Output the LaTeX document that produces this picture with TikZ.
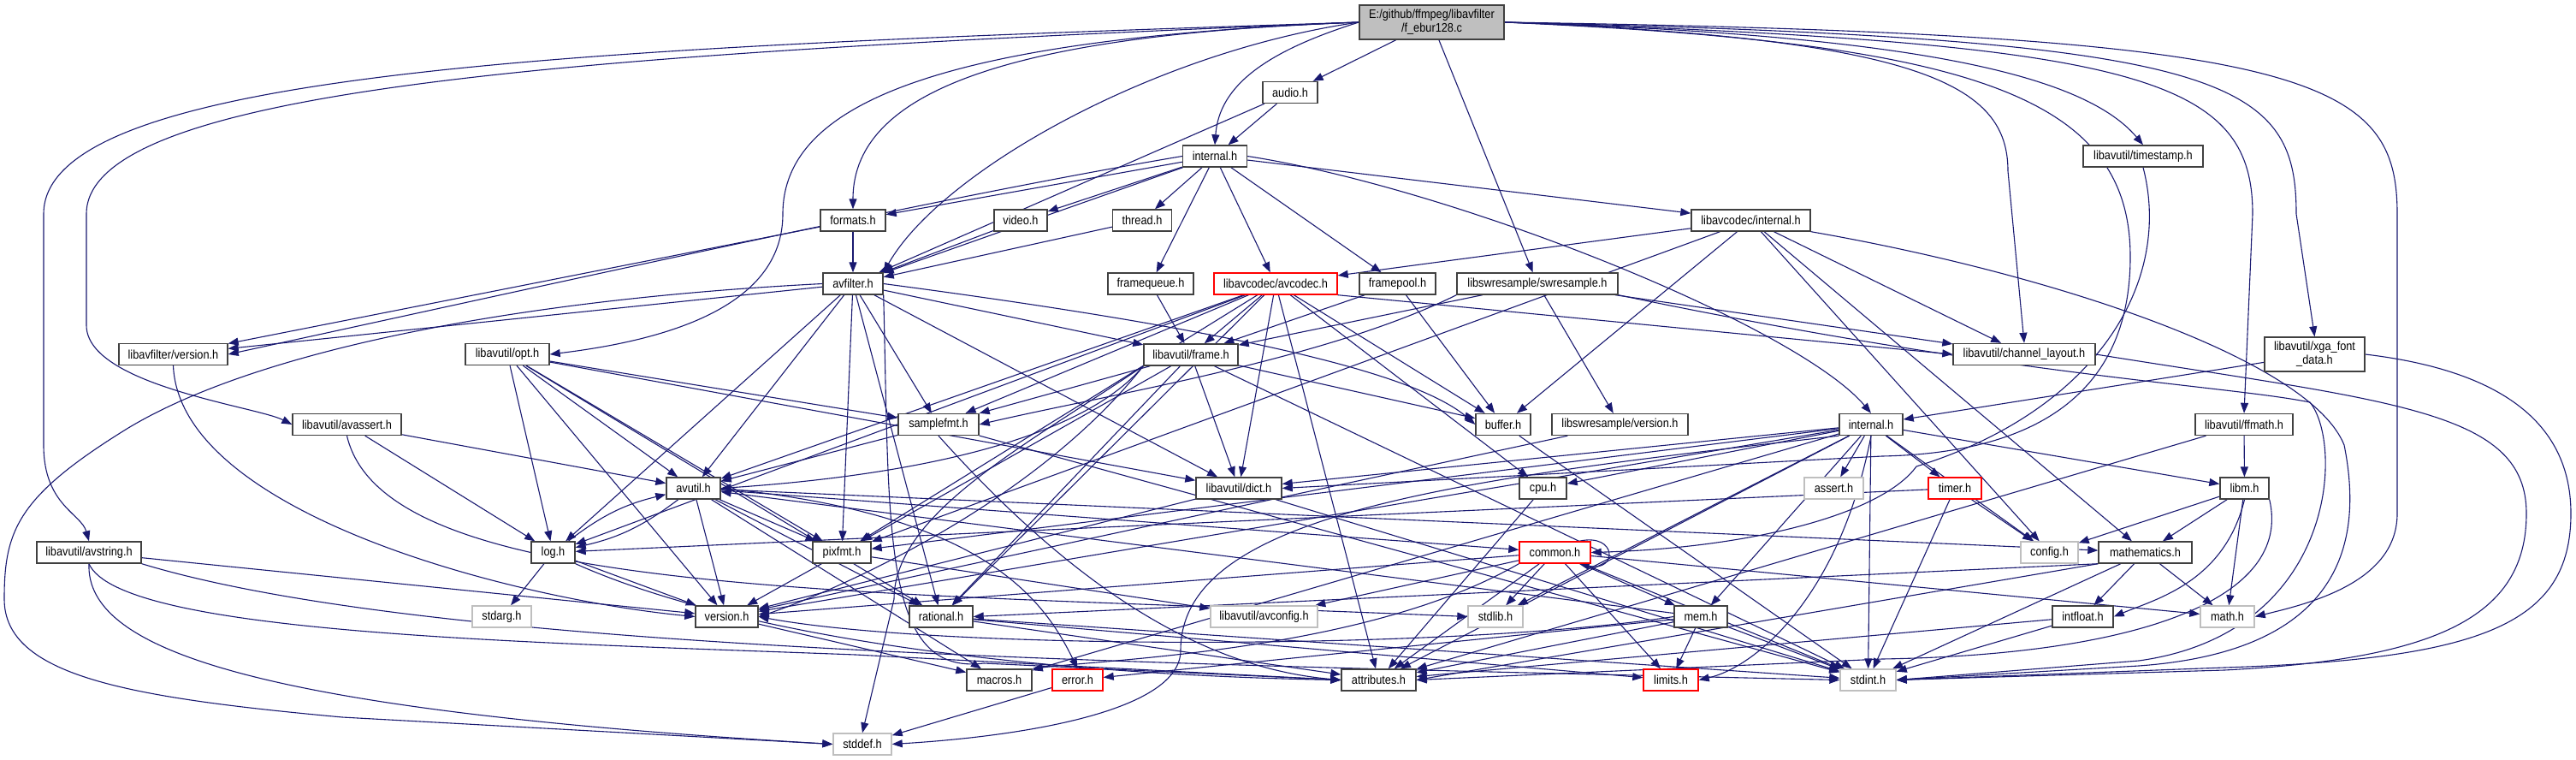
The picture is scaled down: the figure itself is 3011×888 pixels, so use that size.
\documentclass[tikz,border=0pt]{standalone}
\usepackage{fontspec}
\setmainfont{Liberation Sans}[FakeStretch=0.88]
\usetikzlibrary{arrows.meta, backgrounds}
\definecolor{edgeblue}{RGB}{25,25,112}
\definecolor{boxline}{RGB}{64,64,64}
\definecolor{sysline}{RGB}{191,191,191}
\definecolor{rootfill}{RGB}{191,191,191}

\begin{document}
\begin{tikzpicture}[x=1pt, y=-1pt,
    hdr/.style={
        draw=boxline,
        line width=1.4pt,
        fill=white,
        minimum height=25pt,
        inner sep=2pt,
        align=center,
        font=\fontsize{14.5}{16}\selectfont
    },
    syshdr/.style={hdr, draw=sysline},
    redhdr/.style={hdr, draw=red},
    incl/.style={
        -{Triangle[length=12pt,width=9pt]},
        draw=edgeblue,
        line width=1.1pt
    }
]
\useasboundingbox (0,0) rectangle (3011,888);

% top rows
\node[hdr, fill=rootfill, minimum width=169, minimum height=40] (root) at (1673.5,26)
{E:/github/ffmpeg/libavfilter\\/f\_ebur128.c};
\node[hdr, minimum width=64] (audio) at (1508,108) {audio.h};
\node[hdr, minimum width=75] (lfint) at (1420,182.5) {internal.h};
\node[hdr, minimum width=140] (tstamp) at (2505,182.5) {libavutil/timestamp.h};
\node[hdr, minimum width=76] (formats) at (997,257.5) {formats.h};
\node[hdr, minimum width=62] (video) at (1193,257.5) {video.h};
\node[hdr, minimum width=69] (thread) at (1335,257.5) {thread.h};
\node[hdr, minimum width=139] (lcint) at (2046.5,257.5) {libavcodec/internal.h};

\node[hdr, minimum width=70] (avfilter) at (997,331.5) {avfilter.h};
\node[hdr, minimum width=100] (fqueue) at (1345,331.5) {framequeue.h};
\node[redhdr, minimum width=144] (avcodec) at (1491,331.5) {libavcodec/avcodec.h};
\node[hdr, minimum width=89] (fpool) at (1633.5,331.5) {framepool.h};
\node[hdr, minimum width=188] (swr) at (1797,331.5) {libswresample/swresample.h};

\node[hdr, minimum width=127] (lfver) at (202.5,414) {libavfilter/version.h};
\node[hdr, minimum width=98] (opt) at (593,414) {libavutil/opt.h};
\node[hdr, minimum width=110] (frame) at (1392,414.5) {libavutil/frame.h};
\node[hdr, minimum width=166] (chlayout) at (2366,414) {libavutil/channel\_layout.h};
\node[hdr, minimum width=117, minimum height=40] (xga) at (2705.5,414) {libavutil/xga\_font\\\_data.h};

\node[hdr, minimum width=127] (avassert) at (405.5,496) {libavutil/avassert.h};
\node[hdr, minimum width=94] (samplefmt) at (1097,496) {samplefmt.h};
\node[hdr, minimum width=64] (buffer) at (1757,496) {buffer.h};
\node[hdr, minimum width=159] (swrver) at (1893.5,496) {libswresample/version.h};
\node[hdr, minimum width=74] (auint) at (2187,496) {internal.h};
\node[hdr, minimum width=114] (ffmath) at (2623,496) {libavutil/ffmath.h};

% middle rows
\node[hdr, minimum width=63] (avutil) at (810.5,570.5) {avutil.h};
\node[hdr, minimum width=100] (dict) at (1448,570.5) {libavutil/dict.h};
\node[hdr, minimum width=55] (cpu) at (1803.5,570.5) {cpu.h};
\node[syshdr, minimum width=69] (assert) at (2143.5,570.5) {assert.h};
\node[redhdr, minimum width=62] (timer) at (2285,570.5) {timer.h};
\node[hdr, minimum width=57] (libm) at (2623.5,570.5) {libm.h};

\node[hdr, minimum width=122] (avstring) at (104,645.5) {libavutil/avstring.h};
\node[hdr, minimum width=51] (log) at (646.5,645.5) {log.h};
\node[hdr, minimum width=68] (pixfmt) at (984,645.5) {pixfmt.h};
\node[redhdr, minimum width=83] (common) at (1817.5,645.5) {common.h};
\node[syshdr, minimum width=67] (config) at (2395.5,645.5) {config.h};
\node[hdr, minimum width=109] (mathem) at (2507.5,645.5) {mathematics.h};

\node[syshdr, minimum width=69] (stdarg) at (586.5,720.5) {stdarg.h};
\node[hdr, minimum width=73] (version) at (849.5,720.5) {version.h};
\node[hdr, minimum width=74] (rational) at (1100,720.5) {rational.h};
\node[syshdr, minimum width=125] (avconfig) at (1477.5,720.5) {libavutil/avconfig.h};
\node[syshdr, minimum width=64] (stdlib) at (1748,720.5) {stdlib.h};
\node[hdr, minimum width=62] (mem) at (1988,720.5) {mem.h};
\node[hdr, minimum width=71] (intfloat) at (2434.5,720.5) {intfloat.h};
\node[syshdr, minimum width=63] (math) at (2603.5,720.5) {math.h};

% bottom rows
\node[hdr, minimum width=76] (macros) at (1168,794.5) {macros.h};
\node[redhdr, minimum width=59] (error) at (1259.5,794.5) {error.h};
\node[hdr, minimum width=87] (attributes) at (1611.5,794.5) {attributes.h};
\node[redhdr, minimum width=64] (limits) at (1953,794.5) {limits.h};
\node[syshdr, minimum width=65] (stdint) at (2183.5,794.5) {stdint.h};
\node[syshdr, minimum width=68] (stddef) at (1008,869.5) {stddef.h};

\begin{scope}[on background layer]
% straight includes
\foreach \a/\b in {root/audio, root/swr,
    audio/lfint, audio/avfilter,
    lfint/formats, lfint/video, lfint/thread, lfint/avfilter, lfint/fqueue,
    lfint/avcodec, lfint/fpool, lfint/lcint,
    formats/avfilter, formats/lfver, video/avfilter, thread/avfilter,
    lcint/avcodec, lcint/buffer, lcint/chlayout, lcint/mathem, lcint/pixfmt, lcint/config,
    avfilter/lfver, avfilter/avutil, avfilter/log, avfilter/samplefmt, avfilter/frame,
    avfilter/dict, avfilter/pixfmt, avfilter/rational,
    fqueue/frame,
    avcodec/frame, avcodec/samplefmt, avcodec/avutil, avcodec/dict, avcodec/pixfmt,
    avcodec/rational, avcodec/attributes, avcodec/buffer, avcodec/cpu, avcodec/log,
    fpool/buffer, fpool/frame,
    swr/frame, swr/chlayout, swr/swrver,
    opt/rational, opt/avutil, opt/dict, opt/log, opt/pixfmt, opt/samplefmt, opt/version,
    frame/buffer, frame/dict, frame/rational, frame/samplefmt, frame/pixfmt, frame/stdint,
    avassert/avutil, avassert/log,
    samplefmt/avutil, samplefmt/stdint,
    buffer/stdint, swrver/version,
    auint/assert, auint/timer, auint/config, auint/attributes, auint/cpu, auint/dict,
    auint/macros, auint/mem, auint/pixfmt, auint/version, auint/libm, auint/stdint, auint/stdlib,
    xga/auint,
    ffmath/libm, ffmath/attributes,
    avutil/common, avutil/rational, avutil/version, avutil/macros, avutil/mathem, avutil/pixfmt,
    dict/stdint, dict/version,
    cpu/attributes,
    timer/config, timer/log, timer/stdint,
    libm/config, libm/mathem, libm/math,
    log/stdarg, log/version,
    avstring/version,
    pixfmt/avconfig, pixfmt/version,
    common/stdlib, common/limits, common/attributes, common/version, common/avconfig,
    common/mem, common/stdint, common/math,
    mathem/stdint, mathem/math, mathem/intfloat,
    version/macros,
    rational/stdint, rational/limits, rational/attributes,
    mem/limits, mem/stdint, mem/attributes, mem/error, mem/avutil,
    intfloat/stdint, intfloat/attributes,
    error/stddef}
  \draw[incl] (\a) -- (\b);

% anchored includes
\draw[incl] (avcodec.south east) -- (chlayout.west);
\draw[incl] (mathem.south west) -- (rational.east);
\draw[incl] (mathem.south west) -- (attributes.east);

% curved includes from the file itself
\draw[incl] (root.west) .. controls (1350,60) and (1100,200) .. (avfilter.north east);
\draw[incl] (root.west) .. controls (1480,60) and (1425,100) .. (lfint.north);
\draw[incl] (root.west) .. controls (1200,40) and (997,100) .. (formats.north);
\draw[incl] (root.west) .. controls (1100,45) and (915,120) .. (915,250)
  .. controls (915,350) and (800,395) .. (opt.east);
\draw[incl] (root.west) .. controls (700,55) and (51,80) .. (51,250) -- (51,520)
  .. controls (51,590) and (95,600) .. (avstring.north);
\draw[incl] (root.west) .. controls (700,62) and (101,100) .. (101,250) -- (101,380)
  .. controls (101,450) and (300,475) .. (avassert.west);
\draw[incl] (root.east) .. controls (2200,40) and (2430,80) .. (tstamp.north);
\draw[incl] (root.east) .. controls (2250,45) and (2347,100) .. (2347,200) -- (chlayout.north);
\draw[incl] (root.east) .. controls (2500,50) and (2633,90) .. (2633,250) -- (ffmath.north);
\draw[incl] (root.east) .. controls (2600,45) and (2684,90) .. (2684,250) -- (xga.north);
\draw[incl] (root.east) .. controls (2700,40) and (2802,90) .. (2802,250) -- (2802,600)
  .. controls (2802,680) and (2700,705) .. (math.east);
\draw[incl] (root.east) .. controls (2300,50) and (2490,110) .. (2490,300)
  .. controls (2490,480) and (2350,530) .. (2200,533) -- (dict.east);

% other curved includes
\draw[incl] (tstamp.south) .. controls (2540,330) and (2450,480) .. (2240,545)
  .. controls (2200,600) and (2050,640) .. (common.east);
\draw[incl] (lfint.west) .. controls (1100,230) and (700,320) .. (lfver.east);
\draw[incl] (lfint.east) .. controls (1700,220) and (2100,380) .. (auint.north);
\draw[incl] (avfilter.east) .. controls (1400,380) and (1650,430) .. (buffer.west);
\draw[incl] (avfilter.south east) .. controls (1040,620) and (1030,790) .. (1150,775) -- (attributes.west);
\draw[incl] (avfilter.west) .. controls (600,350) and (300,410) .. (150,500)
  .. controls (20,580) and (5,620) .. (5,700)
  .. controls (5,790) and (150,815) .. (400,838) -- (stddef.west);
\draw[incl] (swr.south west) .. controls (1550,420) and (1300,460) .. (samplefmt.east);
\draw[incl] (swr.south east) .. controls (2350,440) and (2600,450) .. (2700,470)
  .. controls (2740,520) and (2730,740) .. (2500,772) -- (stdint.east);
\draw[incl] (lcint.south east) .. controls (2400,320) and (2700,420) .. (2740,520)
  .. controls (2760,620) and (2750,760) .. (2500,778) -- (stdint.east);
\draw[incl] (chlayout.east) .. controls (2800,470) and (2953,480) .. (2953,600)
  .. controls (2953,720) and (2850,770) .. (2600,783) -- (stdint.east);
\draw[incl] (xga.east) .. controls (2900,430) and (3005,480) .. (3005,600)
  .. controls (3005,730) and (2900,770) .. (2600,780) -- (stdint.east);
\draw[incl] (frame.south west) .. controls (1250,530) and (1000,560) .. (avutil.east);
\draw[incl] (frame.south west) .. controls (1200,600) and (950,700) .. (version.east);
\draw[incl] (frame.south west) .. controls (1200,520) and (1045,600) .. (1045,700) -- (stddef.north);
\draw[incl] (samplefmt.south) .. controls (1250,680) and (1400,780) .. (attributes.west);
\draw[incl] (avassert.south) .. controls (450,700) and (1000,690) .. (stdlib.west);
\draw[incl] (auint.south) .. controls (2150,700) and (2050,780) .. (limits.east);
\draw[incl] (auint.south west) .. controls (1700,560) and (1380,600) .. (1380,760)
  .. controls (1380,830) and (1200,860) .. (stddef.east);
\draw[incl] (avutil.east) .. controls (1150,600) and (1220,700) .. (error.north);
\draw[incl] (mem.west) .. controls (1700,760) and (1100,760) .. (version.east);
\draw[incl] (common.south west) .. controls (1600,760) and (1300,770) .. (macros.north east);
\draw[incl] (libm.south east) .. controls (2680,700) and (2500,765) .. (2200,770) -- (attributes.east);
\draw[incl] (libm.south) .. controls (2600,680) and (2520,700) .. (intfloat.east);
\draw[incl] (log.south east) .. controls (900,760) and (1300,790) .. (attributes.west);
\draw[incl] (avstring.south) .. controls (140,740) and (600,750) .. (1000,765) -- (attributes.west);
\draw[incl] (avstring.south east) .. controls (500,760) and (1300,775) .. (stdint.west);
\draw[incl] (avstring.south) .. controls (100,760) and (300,830) .. (stddef.west);
\draw[incl] (lfver.south) .. controls (210,600) and (600,700) .. (version.west);
\draw[incl] (log) to[bend left=12] (avutil);
\draw[incl] (avutil) to[bend left=12] (log);
\draw[incl] ([xshift=-14pt]common.north east) .. controls +(45,-10) and +(45,10) .. ([xshift=-14pt]common.south east);
\end{scope}

\end{tikzpicture}
\end{document}
